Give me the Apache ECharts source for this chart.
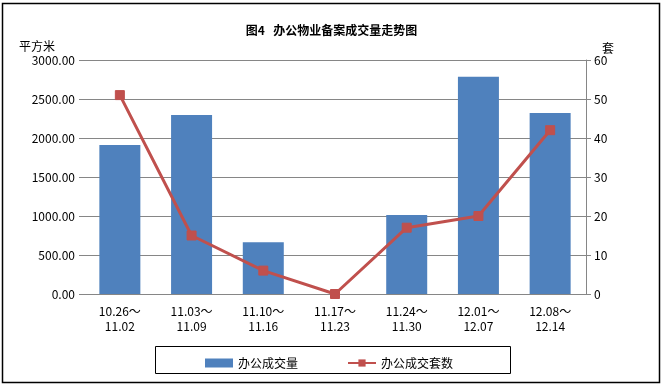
<!DOCTYPE html>
<html><head><meta charset="utf-8">
<script src="https://cdn.jsdelivr.net/npm/echarts@6/dist/echarts.min.js"></script>
<style>html,body{margin:0;padding:0;background:#fff}#c{width:663px;height:386px}</style>
</head><body><div id="c"></div>
<script>
const categories = ['10.26～\n11.02','11.03～\n11.09','11.10～\n11.16','11.17～\n11.23','11.24～\n11.30','12.01～\n12.07','12.08～\n12.14'];
const areaValues = [1910, 2295, 665, 0, 1012, 2785, 2320];
const countValues = [51, 15, 6, 0, 17, 20, 42];
const FONT = '"Noto Sans CJK SC", sans-serif';
const chart = echarts.init(document.getElementById('c'));
chart.setOption({
  animation: false,
  textStyle: {fontFamily: FONT, color: '#000'},
  title: {text: '图4   办公物业备案成交量走势图', left: 'center', top: 19,
    textStyle: {fontFamily: FONT, fontSize: 12, fontWeight: 'bold', color: '#000'}},
  graphic: [
    {type: 'rect', shape: {x: 2.5, y: 3.5, width: 657, height: 379}, style: {fill: 'none', stroke: '#000', lineWidth: 1.5}, silent: true},
    {type: 'rect', shape: {x: 155.5, y: 346.5, width: 355, height: 27}, style: {fill: 'none', stroke: '#000', lineWidth: 1}, silent: true}
  ],
  legend: {left: 200, top: 352, itemGap: 49, itemWidth: 28, itemHeight: 9,
    textStyle: {fontFamily: FONT, fontSize: 12, color: '#000'},
    data: [{name: '办公成交量', icon: 'rect'}, {name: '办公成交套数'}]},
  grid: {left: 84, right: 77, top: 60, bottom: 92, containLabel: false},
  xAxis: {type: 'category', data: categories,
    axisLine: {lineStyle: {color: '#868686'}}, axisTick: {show: false},
    axisLabel: {fontFamily: FONT, fontSize: 12, color: '#000', lineHeight: 15, margin: 10}},
  yAxis: [
    {type: 'value', min: 0, max: 3000, interval: 500, name: '平方米',
      nameTextStyle: {fontFamily: FONT, fontSize: 12, color: '#000', align: 'right', padding: [0, 29, 0, 0]}, nameGap: 8,
      axisLine: {show: false}, axisTick: {show: true, length: 5, lineStyle: {color: '#868686'}},
      splitLine: {lineStyle: {color: '#868686'}},
      axisLabel: {fontFamily: FONT, fontSize: 12, color: '#000', margin: 9, formatter: v => v.toFixed(2)}},
    {type: 'value', min: 0, max: 60, interval: 10, name: '套',
      nameTextStyle: {fontFamily: FONT, fontSize: 12, color: '#000', align: 'left', padding: [0, 0, 0, 16]}, nameGap: 6,
      axisLine: {show: true, lineStyle: {color: '#868686'}}, axisTick: {show: true, length: 5, lineStyle: {color: '#868686'}},
      splitLine: {show: false},
      axisLabel: {fontFamily: FONT, fontSize: 12, color: '#000', margin: 8}}
  ],
  series: [
    {name: '办公成交量', type: 'bar', data: areaValues, barWidth: 41, itemStyle: {color: '#4F81BD'}},
    {name: '办公成交套数', type: 'line', yAxisIndex: 1, data: countValues, symbol: 'rect', symbolSize: 9,
      lineStyle: {color: '#C0504D', width: 3}, itemStyle: {color: '#C0504D', borderColor: '#C0504D'}}
  ]
});
</script></body></html>
